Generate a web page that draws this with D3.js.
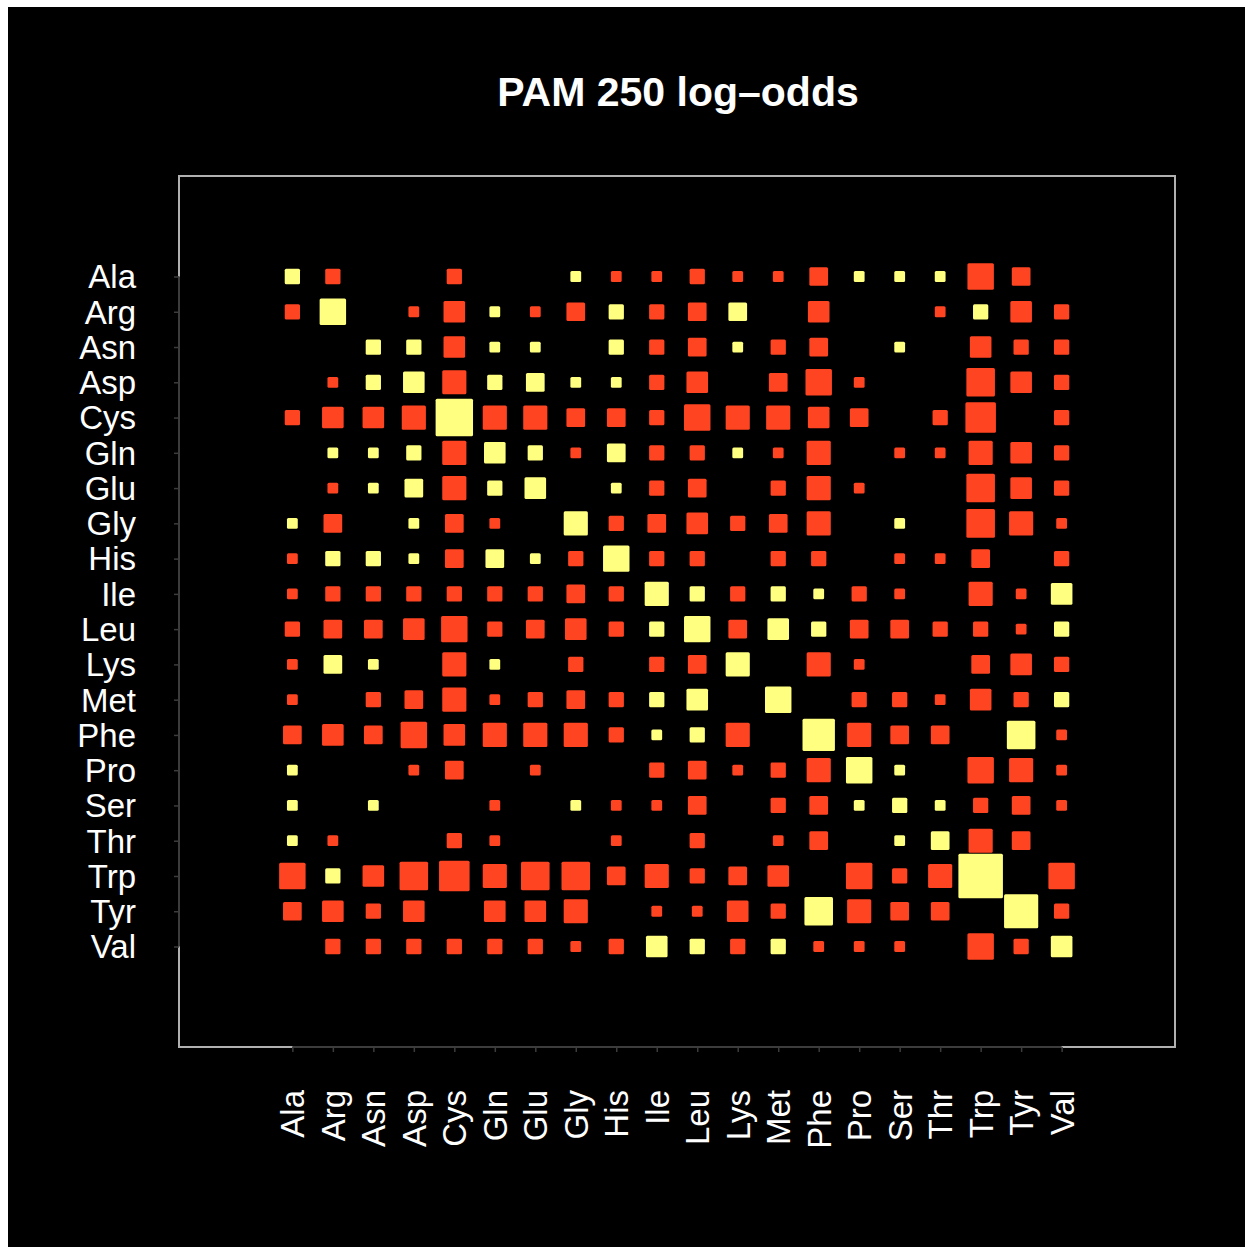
<!DOCTYPE html>
<html>
<head>
<meta charset="utf-8">
<script src="https://cdn.jsdelivr.net/npm/d3@7"></script>
<style>
  body { margin: 0; background: #fff; }
  svg { display: block; }
  text { font-family: "Liberation Sans", Arial, sans-serif; fill: #fff; }
</style>
</head>
<body>
<div id="container"></div>
<script>
// amino acids, same order on rows and columns
let aminoAcids = ["Ala", "Arg", "Asn", "Asp", "Cys", "Gln", "Glu", "Gly", "His", "Ile",
                  "Leu", "Lys", "Met", "Phe", "Pro", "Ser", "Thr", "Trp", "Tyr", "Val"];

// PAM 250 log-odds, one row per amino acid
let pamAla = [ 2, -2,  0,  0, -2,  0,  0,  1, -1, -1, -2, -1, -1, -3,  1,  1,  1, -6, -3,  0];
let pamArg = [-2,  6,  0, -1, -4,  1, -1, -3,  2, -2, -3,  3,  0, -4,  0,  0, -1,  2, -4, -2];
let pamAsn = [ 0,  0,  2,  2, -4,  1,  1,  0,  2, -2, -3,  1, -2, -3,  0,  1,  0, -4, -2, -2];
let pamAsp = [ 0, -1,  2,  4, -5,  2,  3,  1,  1, -2, -4,  0, -3, -6, -1,  0,  0, -7, -4, -2];
let pamCys = [-2, -4, -4, -5, 12, -5, -5, -3, -3, -2, -6, -5, -5, -4, -3,  0, -2, -8,  0, -2];
let pamGln = [ 0,  1,  1,  2, -5,  4,  2, -1,  3, -2, -2,  1, -1, -5,  0, -1, -1, -5, -4, -2];
let pamGlu = [ 0, -1,  1,  3, -5,  2,  4,  0,  1, -2, -3,  0, -2, -5, -1,  0,  0, -7, -4, -2];
let pamGly = [ 1, -3,  0,  1, -3, -1,  0,  5, -2, -3, -4, -2, -3, -5,  0,  1,  0, -7, -5, -1];
let pamHis = [-1,  2,  2,  1, -3,  3,  1, -2,  6, -2, -2,  0, -2, -2,  0, -1, -1, -3,  0, -2];
let pamIle = [-1, -2, -2, -2, -2, -2, -2, -3, -2,  5,  2, -2,  2,  1, -2, -1,  0, -5, -1,  4];
let pamLeu = [-2, -3, -3, -4, -6, -2, -3, -4, -2,  2,  6, -3,  4,  2, -3, -3, -2, -2, -1,  2];
let pamLys = [-1,  3,  1,  0, -5,  1,  0, -2,  0, -2, -3,  5,  0, -5, -1,  0,  0, -3, -4, -2];
let pamMet = [-1,  0, -2, -3, -5, -1, -2, -3, -2,  2,  4,  0,  6,  0, -2, -2, -1, -4, -2,  2];
let pamPhe = [-3, -4, -3, -6, -4, -5, -5, -5, -2,  1,  2, -5,  0,  9, -5, -3, -3,  0,  7, -1];
let pamPro = [ 1,  0,  0, -1, -3,  0, -1,  0,  0, -2, -3, -1, -2, -5,  6,  1,  0, -6, -5, -1];
let pamSer = [ 1,  0,  1,  0,  0, -1,  0,  1, -1, -1, -3,  0, -2, -3,  1,  2,  1, -2, -3, -1];
let pamThr = [ 1, -1,  0,  0, -2, -1,  0,  0, -1,  0, -2,  0, -1, -3,  0,  1,  3, -5, -3,  0];
let pamTrp = [-6,  2, -4, -7, -8, -5, -7, -7, -3, -5, -2, -3, -4,  0, -6, -2, -5, 17,  0, -6];
let pamTyr = [-3, -4, -2, -4,  0, -4, -4, -5,  0, -1, -1, -4, -2,  7, -5, -3, -3,  0, 10, -2];
let pamVal = [ 0, -2, -2, -2, -2, -2, -2, -1, -2,  4,  2, -2,  2, -1, -1, -1,  0, -6, -2,  4];

let pamRows = [pamAla, pamArg, pamAsn, pamAsp, pamCys, pamGln, pamGlu, pamGly, pamHis, pamIle,
               pamLeu, pamLys, pamMet, pamPhe, pamPro, pamSer, pamThr, pamTrp, pamTyr, pamVal];

let width = 1245;
let height = 1247;

//flatten into cells
let cells = [];
pamRows.forEach((row, i) => {
    row.forEach((v, j) => {
        if (v !== 0) cells.push({ row: i, col: j, value: v });
    });
});

let svg = d3.select("#container")
    .append("svg")
    .attr("width", width)
    .attr("height", height);

//black plot page
svg.append("rect")
    .attr("x", 8).attr("y", 7)
    .attr("width", width - 8).attr("height", height - 7)
    .attr("fill", "black");

let x = d3.scaleLinear().domain([-2.8, 21.8]).range([179, 1175]);
let y = d3.scaleLinear().domain([-2.85, 21.85]).range([176, 1047]);
let side = d3.scaleSqrt().domain([0, 1]).range([0, 10.8]);

//squares
svg.selectAll("rect.cell")
    .data(cells)
    .enter()
    .append("rect")
    .attr("class", "cell")
    .attr("x", d => x(d.col) - side(Math.abs(d.value)) / 2)
    .attr("y", d => y(d.row) - side(Math.abs(d.value)) / 2)
    .attr("width", d => side(Math.abs(d.value)))
    .attr("height", d => side(Math.abs(d.value)))
    .attr("rx", 1.5)
    .attr("fill", d => d.value > 0 ? "#ffff80" : "#ff4422");

//box
svg.append("rect")
    .attr("x", 179).attr("y", 176)
    .attr("width", 1175 - 179).attr("height", 1047 - 176)
    .attr("fill", "none")
    .attr("stroke", "#b0b0b0")
    .attr("stroke-width", 2);

//axes
let idx = d3.range(aminoAcids.length);

let xAxis = svg.append("g")
    .attr("transform", "translate(0,1047)")
    .call(d3.axisBottom(x).tickValues(idx).tickSize(5).tickFormat(""));

let yAxis = svg.append("g")
    .attr("transform", "translate(179,0)")
    .call(d3.axisLeft(y).tickValues(idx).tickSize(5).tickFormat(""));

[xAxis, yAxis].forEach(g => {
    g.select(".domain").attr("stroke", "#3c3c3c").attr("stroke-width", 2);
    g.selectAll(".tick line").attr("stroke", "#3c3c3c").attr("stroke-width", 1.5);
});
xAxis.select(".domain").attr("d", "M" + x(0) + ",0H" + x(19));
yAxis.select(".domain").attr("d", "M0," + y(0) + "V" + y(19));

//labels
svg.selectAll("text.ylab")
    .data(aminoAcids)
    .enter()
    .append("text")
    .attr("class", "ylab")
    .attr("x", 136)
    .attr("y", (d, i) => y(i))
    .attr("dy", "0.36em")
    .attr("text-anchor", "end")
    .style("font-size", "33px")
    .text(d => d);

svg.selectAll("text.xlab")
    .data(aminoAcids)
    .enter()
    .append("text")
    .attr("class", "xlab")
    .attr("transform", (d, i) => "translate(" + x(i) + ",1090) rotate(-90)")
    .attr("dy", "0.36em")
    .attr("text-anchor", "end")
    .style("font-size", "33px")
    .text(d => d);

svg.append("text")
    .attr("x", 678)
    .attr("y", 106)
    .attr("text-anchor", "middle")
    .style("font-size", "41px")
    .style("font-weight", "bold")
    .text("PAM 250 log\u2013odds");
</script>
</body>
</html>
